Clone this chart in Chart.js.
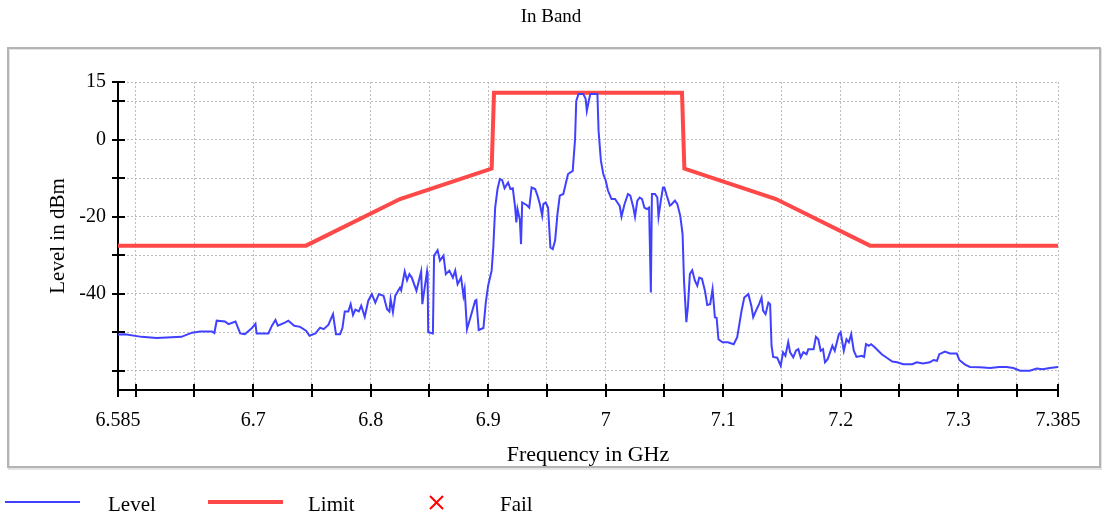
<!DOCTYPE html>
<html>
<head>
<meta charset="utf-8">
<title>In Band</title>
<script src="https://cdn.jsdelivr.net/npm/chart.js@4"></script>
<style>
  html, body { margin: 0; padding: 0; background: #fff; }
  #wrap { width: 1102px; height: 519px; }
</style>
</head>
<body>
<div id="wrap"><canvas id="inBand" width="1102" height="519"></canvas></div>
<script>
// measured trace (GHz / dBm)
const levelGhz = [
  6.585, 6.591, 6.605, 6.618, 6.639, 6.648, 6.655, 6.665, 6.667, 6.669, 6.676, 6.679, 6.685, 6.689, 6.693, 6.699,
  6.702, 6.703, 6.713, 6.716, 6.719, 6.721, 6.727, 6.730, 6.735, 6.740, 6.745, 6.748, 6.753, 6.757, 6.760, 6.764,
  6.768, 6.7705, 6.774, 6.776, 6.778, 6.781, 6.783, 6.785, 6.787, 6.790, 6.792, 6.795, 6.798, 6.801, 6.804, 6.807,
  6.811, 6.814, 6.816, 6.817, 6.819, 6.821, 6.825, 6.826, 6.829, 6.831, 6.833, 6.835, 6.839, 6.843, 6.844, 6.848,
  6.8485, 6.849, 6.853, 6.854, 6.857, 6.859, 6.862, 6.864, 6.867, 6.870, 6.872, 6.874, 6.877, 6.879, 6.880, 6.882,
  6.885, 6.889, 6.890, 6.892, 6.896, 6.898, 6.900, 6.903, 6.9044, 6.906, 6.908, 6.910, 6.912, 6.914, 6.917, 6.919,
  6.921, 6.923, 6.924, 6.925, 6.927, 6.928, 6.929, 6.933, 6.935, 6.937, 6.940, 6.942, 6.944, 6.946, 6.947, 6.949,
  6.951, 6.953, 6.955, 6.957, 6.959, 6.961, 6.964, 6.966, 6.968, 6.972, 6.974, 6.975, 6.977, 6.981, 6.983, 6.984,
  6.986, 6.987, 6.993, 6.994, 6.996, 6.998, 7.000, 7.002, 7.005, 7.008, 7.010, 7.012, 7.0135, 7.016, 7.019, 7.021,
  7.0236, 7.025, 7.027, 7.029, 7.031, 7.033, 7.035, 7.037, 7.0385, 7.0394, 7.042, 7.044, 7.045, 7.047, 7.0488, 7.050,
  7.052, 7.0547, 7.056, 7.059, 7.061, 7.0635, 7.0655, 7.0667, 7.0687, 7.070, 7.0717, 7.0737, 7.076, 7.078, 7.0797, 7.082,
  7.0845, 7.0865, 7.089, 7.091, 7.093, 7.0945, 7.096, 7.0994, 7.104, 7.109, 7.112, 7.1157, 7.118, 7.1215, 7.124, 7.1256,
  7.128, 7.1306, 7.1327, 7.134, 7.1361, 7.1385, 7.140, 7.1412, 7.1426, 7.146, 7.149, 7.151, 7.153, 7.1554, 7.157, 7.1597,
  7.162, 7.164, 7.166, 7.1683, 7.171, 7.1725, 7.177, 7.179, 7.181, 7.183, 7.185, 7.1867, 7.189, 7.193, 7.195, 7.1985,
  7.200, 7.2027, 7.205, 7.207, 7.209, 7.2112, 7.2135, 7.218, 7.220, 7.2216, 7.224, 7.226, 7.229, 7.232, 7.235, 7.2396,
  7.244, 7.248, 7.2534, 7.261, 7.2647, 7.270, 7.276, 7.279, 7.282, 7.284, 7.2888, 7.293, 7.2988, 7.301, 7.3059, 7.3101,
  7.3186, 7.3271, 7.335, 7.3413, 7.347, 7.3527, 7.361, 7.3669, 7.372, 7.378, 7.385
];
const levelDbm = [
  -50.6, -50.5, -51.2, -51.5, -51.2, -50.1, -49.8, -49.8, -50.2, -47.0, -47.2, -47.9, -47.2, -50.3, -50.5, -48.9,
  -47.8, -50.3, -50.3, -48.3, -46.8, -48.3, -47.5, -47.0, -48.3, -48.6, -49.6, -50.9, -50.3, -48.8, -49.2, -48.1,
  -45.3, -50.5, -50.5, -48.9, -44.6, -44.6, -42.7, -45.5, -44.1, -44.6, -43.1, -46.0, -41.8, -40.1, -42.3, -40.1,
  -40.5, -44.0, -44.6, -41.4, -44.8, -40.5, -38.4, -39.1, -34.2, -36.5, -34.9, -35.8, -39.2, -34.2, -42.7, -34.2,
  -35.8, -50.0, -50.3, -30.1, -28.7, -31.4, -30.1, -34.9, -34.0, -35.8, -34.0, -37.5, -35.8, -40.5, -38.8, -49.2,
  -46.1, -41.8, -41.6, -49.4, -48.9, -42.3, -37.9, -34.0, -28.0, -17.6, -12.8, -10.2, -10.5, -12.6, -11.1, -12.8,
  -12.6, -17.6, -21.5, -18.0, -20.8, -27.1, -16.3, -17.0, -17.6, -12.4, -12.8, -14.5, -16.7, -19.7, -16.7, -16.3,
  -17.6, -28.0, -28.4, -26.2, -19.3, -14.5, -14.1, -11.5, -8.9, -8.1, 0.2, 10.1, 11.9, 11.9, 10.6, 7.5,
  10.6, 11.9, 11.9, 2.3, -5.5, -8.9, -10.5, -13.2, -15.4, -15.4, -16.3, -17.2, -20.0, -16.8, -14.1, -14.5,
  -17.6, -20.0, -15.8, -15.0, -15.4, -17.6, -18.0, -17.6, -39.7, -14.1, -14.1, -15.0, -20.0, -15.8, -12.4, -12.4,
  -14.5, -17.1, -16.8, -15.8, -16.7, -19.7, -24.5, -36.6, -47.4, -43.5, -34.9, -33.9, -36.6, -37.9, -35.8, -36.1,
  -39.2, -42.9, -42.7, -38.8, -46.1, -46.3, -51.8, -52.6, -52.6, -53.1, -51.3, -44.4, -41.0, -40.1, -43.1, -46.1,
  -44.4, -42.7, -41.0, -44.4, -45.3, -42.3, -42.7, -53.5, -56.4, -56.6, -58.7, -55.2, -56.1, -52.6, -55.2, -56.5,
  -54.8, -54.4, -56.5, -55.2, -55.7, -54.4, -54.4, -51.2, -51.8, -54.8, -54.4, -57.8, -57.0, -53.5, -54.8, -50.5,
  -50.0, -54.8, -51.8, -52.6, -50.5, -54.8, -56.4, -56.1, -56.4, -53.1, -53.5, -53.1, -53.9, -54.8, -55.7, -56.7,
  -57.6, -57.8, -58.3, -58.3, -57.8, -58.1, -57.8, -57.2, -57.4, -55.7, -55.0, -55.5, -55.5, -57.2, -58.4, -59.0,
  -59.1, -59.3, -59.0, -59.0, -59.3, -60.0, -60.0, -59.4, -59.6, -59.3, -59.0
];

// emission mask
const limitGhz = [6.585, 6.745, 6.825, 6.903, 6.905, 7.065, 7.067, 7.145, 7.225, 7.385];
const limitDbm = [-27.5, -27.5, -15.4, -7.5, 12.2, 12.2, -7.5, -15.4, -27.5, -27.5];

// no failing points in this sweep
const failGhz = [];
const failDbm = [];

const xTickValues = [6.585, 6.6, 6.65, 6.7, 6.75, 6.8, 6.85, 6.9, 6.95, 7, 7.05, 7.1, 7.15, 7.2, 7.25, 7.3, 7.35, 7.385];
const xTickLabels = [6.585, 6.7, 6.8, 6.9, 7, 7.1, 7.2, 7.3, 7.385];
const yTickValues = [15, 10, 0, -10, -20, -30, -40, -50, -60];
const yTickLabels = [15, 0, -20, -40];

const toPoints = (xs, ys) => xs.map((x, i) => ({ x: x, y: ys[i] }));
const hasValue = (list, v) => list.some((l) => Math.abs(l - v) < 1e-6);

const SERIF = '"Liberation Serif", "Times New Roman", serif';
Chart.defaults.font.family = SERIF;
Chart.defaults.color = "#000";

// grey frame round the plot
const frame = {
  id: "frame",
  beforeDraw(chart) {
    const { ctx } = chart;
    ctx.save();
    ctx.fillStyle = "#fff";
    ctx.fillRect(0, 0, chart.width, chart.height);
    ctx.strokeStyle = "#e4e4e4";
    ctx.lineWidth = 2;
    ctx.strokeRect(9, 49, 1092, 420);
    ctx.strokeStyle = "#b4b4b4";
    ctx.lineWidth = 2;
    ctx.strokeRect(8, 48, 1092, 419);
    ctx.restore();
  },
};

// black tick marks crossing the axes
const axisTicks = {
  id: "axisTicks",
  afterDraw(chart) {
    const { ctx } = chart;
    const x = chart.scales.x;
    const y = chart.scales.y;
    ctx.save();
    ctx.strokeStyle = "#000";
    ctx.lineWidth = 2;
    ctx.beginPath();
    x.ticks.forEach((t) => {
      const px = Math.round(x.getPixelForValue(t.value));
      ctx.moveTo(px, x.top - 6);
      ctx.lineTo(px, x.top + 7);
    });
    y.ticks.forEach((t) => {
      const py = Math.round(y.getPixelForValue(t.value));
      ctx.moveTo(y.right - 6, py);
      ctx.lineTo(y.right + 7, py);
    });
    ctx.stroke();
    ctx.restore();
  },
};

// legend row under the frame
const legendRow = {
  id: "legendRow",
  afterDraw(chart) {
    const { ctx } = chart;
    const marks = [5, 208, 428];
    const texts = [108, 308, 500];
    const ly = 503;
    ctx.save();
    chart.data.datasets.forEach((ds, i) => {
      ctx.strokeStyle = ds.borderColor;
      if (ds.showLine === false) {
        ctx.lineWidth = 2;
        ctx.beginPath();
        ctx.moveTo(marks[i] + 2, ly - 7);
        ctx.lineTo(marks[i] + 15, ly + 6);
        ctx.moveTo(marks[i] + 15, ly - 7);
        ctx.lineTo(marks[i] + 2, ly + 6);
        ctx.stroke();
      } else {
        ctx.lineWidth = ds.borderWidth;
        ctx.beginPath();
        ctx.moveTo(marks[i], ly - 1);
        ctx.lineTo(marks[i] + 75, ly - 1);
        ctx.stroke();
      }
      ctx.fillStyle = "#000";
      ctx.font = "21px " + SERIF;
      ctx.textBaseline = "middle";
      ctx.fillText(ds.label, texts[i], ly + 2);
    });
    ctx.restore();
  },
};

const ctx = document.getElementById("inBand").getContext("2d");

new Chart(ctx, {
  type: "line",
  data: {
    datasets: [
      {
        label: "Level",
        data: toPoints(levelGhz, levelDbm),
        borderColor: "rgb(64, 64, 255)",
        borderWidth: 2,
        pointRadius: 0,
        tension: 0,
      },
      {
        label: "Limit",
        data: toPoints(limitGhz, limitDbm),
        borderColor: "rgb(255, 72, 72)",
        borderWidth: 4,
        pointRadius: 0,
        tension: 0,
      },
      {
        label: "Fail",
        data: toPoints(failGhz, failDbm),
        borderColor: "rgb(255, 0, 0)",
        showLine: false,
        pointStyle: "crossRot",
        pointRadius: 7,
      },
    ],
  },
  options: {
    responsive: false,
    animation: false,
    layout: { padding: { left: 44, right: 44, top: 0, bottom: 0 } },
    plugins: {
      legend: { display: false },
      tooltip: { enabled: false },
      title: {
        display: true,
        text: "In Band",
        font: { size: 19, weight: "normal" },
        color: "#000",
        padding: { top: 6, bottom: 53.2 },
      },
    },
    scales: {
      x: {
        type: "linear",
        min: 6.585,
        max: 7.385,
        afterBuildTicks: (scale) => {
          scale.ticks = xTickValues.map((v) => ({ value: v }));
        },
        afterFit: (scale) => {
          scale.height = 129;
        },
        ticks: {
          autoSkip: false,
          maxRotation: 0,
          padding: 19,
          font: { size: 20 },
          callback: (value) => (hasValue(xTickLabels, value) ? String(+value.toFixed(3)) : ""),
        },
        grid: { color: "#bdbdbd", lineWidth: 1, drawTicks: false },
        border: { display: true, color: "#000", width: 2, dash: [2, 2] },
        title: {
          display: true,
          text: "Frequency in GHz",
          font: { size: 22 },
          padding: { top: 0, bottom: 51 },
        },
      },
      y: {
        type: "linear",
        min: -65,
        max: 15,
        afterBuildTicks: (scale) => {
          scale.ticks = yTickValues.map((v) => ({ value: v }));
        },
        afterFit: (scale) => {
          scale.width = 74;
        },
        ticks: {
          autoSkip: false,
          padding: 12,
          font: { size: 20 },
          callback: (value) => (hasValue(yTickLabels, value) ? String(value) : ""),
        },
        grid: { color: "#bdbdbd", lineWidth: 1, drawTicks: false },
        border: { display: true, color: "#000", width: 2, dash: [2, 2] },
        title: {
          display: true,
          text: "Level in dBm",
          font: { size: 21 },
          padding: { top: 1.5, bottom: 0 },
        },
      },
    },
  },
  plugins: [frame, axisTicks, legendRow],
});
</script>
</body>
</html>
